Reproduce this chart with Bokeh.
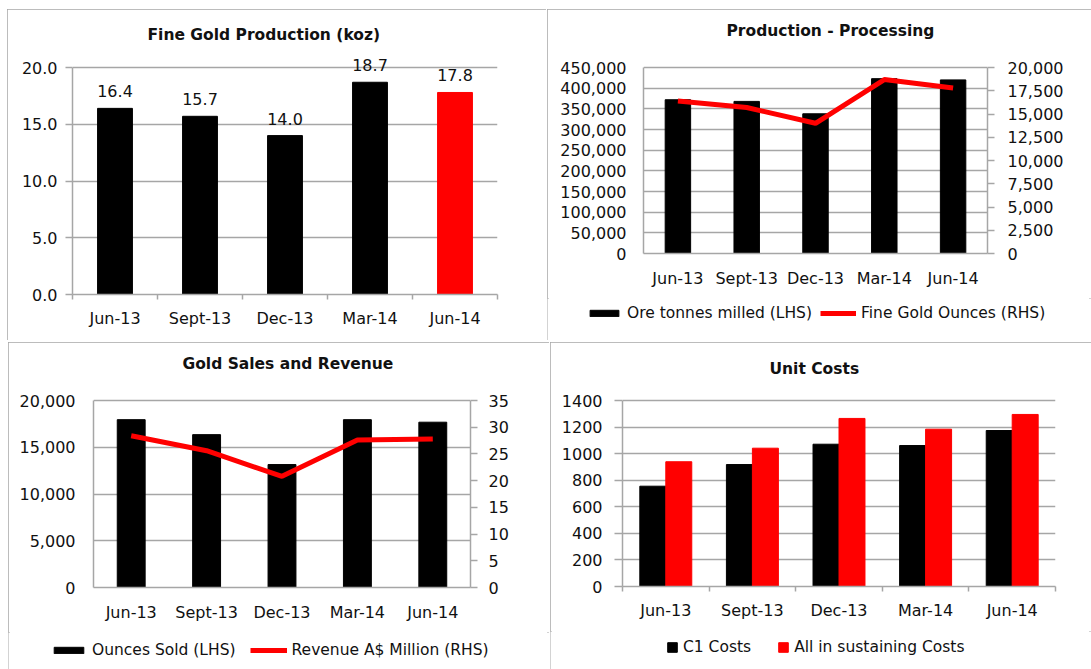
from bokeh.plotting import figure
from bokeh.models import (Range1d, LinearAxis, FixedTicker, NumeralTickFormatter,
                          Legend, LegendItem, LabelSet, ColumnDataSource)
from bokeh.layouts import column, row
from bokeh.transform import dodge
from bokeh.core.properties import value
from bokeh.embed import file_html
from bokeh.resources import INLINE

# ---------------- data ----------------
quarters = ["Jun-13", "Sept-13", "Dec-13", "Mar-14", "Jun-14"]
fine_gold_koz = [16.4, 15.7, 14.0, 18.7, 17.8]
ore_tonnes_milled = [372000, 368000, 338000, 423000, 420000]
fine_gold_ounces = [16400, 15700, 14000, 18700, 17800]
ounces_sold = [17950, 16350, 13150, 17950, 17680]
revenue_aud_m = [28.4, 25.6, 20.8, 27.6, 27.8]
c1_costs = [755, 918, 1071, 1061, 1174]
aisc_costs = [939, 1041, 1265, 1184, 1295]

xs = list(range(1, len(quarters) + 1))

FONT = "DejaVu Sans"
GRID = "#a6a6a6"
TXT = "#111111"
RED = "#ff0000"
BLACK = "#000000"
FS = "16px"
LFS = "15.5px"
TFS = "15.5px"
BOX = {"outline": "2px solid #a6a6a6", "outline-offset": "-2px"}


def headroom(ymax, frame_h, extra_px):
    # extend the range above the top tick so the title / labels get room
    return ymax * (frame_h + extra_px) / frame_h


def base(size, borders, yrange, ybounds, yticks, yfmt, title, t_offset,
         boundary_ticks, left_tick_out, left_standoff, x_standoff):
    left, right, top, bottom = borders
    p = figure(width=size[0], height=size[1], x_range=Range1d(0.5, len(quarters) + 0.5),
               y_range=Range1d(*yrange), output_backend="svg", toolbar_location=None,
               min_border_left=left, min_border_right=right, min_border_top=top,
               min_border_bottom=bottom, title=title)
    p.frame_align = False
    p.background_fill_color = "white"
    p.border_fill_color = "white"
    p.title.text_font = FONT
    p.title.text_font_size = TFS
    p.title.text_font_style = "bold"
    p.title.text_color = TXT
    p.title.align = "left"
    p.title.offset = t_offset
    p.title.standoff = 2
    p.xgrid.visible = False
    p.ygrid.grid_line_color = GRID
    p.ygrid.grid_line_width = 1.5
    p.outline_line_color = None

    xa = p.xaxis[0]
    xa.ticker = FixedTicker(ticks=xs, minor_ticks=[x - 0.5 for x in xs] + [xs[-1] + 0.5])
    xa.major_label_overrides = {x: q for x, q in zip(xs, quarters)}
    xa.major_tick_line_color = None
    xa.major_tick_out = 0
    xa.major_tick_in = 0
    xa.minor_tick_in = 0
    xa.minor_tick_out = 5 if boundary_ticks else 0
    xa.minor_tick_line_color = GRID if boundary_ticks else None
    xa.minor_tick_line_width = 1.5
    xa.axis_line_color = GRID
    xa.axis_line_width = 1.5
    xa.major_label_standoff = x_standoff
    xa.major_label_text_font = FONT
    xa.major_label_text_font_size = FS
    xa.major_label_text_color = TXT

    ya = p.yaxis[0]
    ya.ticker = FixedTicker(ticks=yticks)
    ya.formatter = NumeralTickFormatter(format=yfmt)
    ya.bounds = ybounds
    ya.minor_tick_line_color = None
    ya.major_tick_in = 0
    ya.major_tick_out = left_tick_out
    ya.major_tick_line_color = GRID if left_tick_out else None
    ya.major_tick_line_width = 1.5
    ya.axis_line_color = GRID
    ya.axis_line_width = 1.5
    ya.major_label_standoff = left_standoff
    ya.major_label_text_font = FONT
    ya.major_label_text_font_size = FS
    ya.major_label_text_color = TXT
    p.ygrid.ticker = ya.ticker
    return p


def right_axis(p, name, yend, bounds, ticks, fmt, standoff):
    p.extra_y_ranges = {name: Range1d(0, yend)}
    ax = LinearAxis(y_range_name=name, ticker=FixedTicker(ticks=ticks),
                    formatter=NumeralTickFormatter(format=fmt), bounds=bounds)
    ax.minor_tick_line_color = None
    ax.major_tick_in = 0
    ax.major_tick_out = 7
    ax.major_tick_line_color = GRID
    ax.major_tick_line_width = 1.5
    ax.axis_line_color = GRID
    ax.axis_line_width = 1.5
    ax.major_label_standoff = standoff
    ax.major_label_text_font = FONT
    ax.major_label_text_font_size = FS
    ax.major_label_text_color = TXT
    p.add_layout(ax, "right")


def legend_strip(width, height, entries, loc, glyph_w, glyph_h, spacing):
    """A strip under a chart holding its legend; keys come from hidden copies of the series."""
    lf = figure(width=width, height=height, x_range=Range1d(0, 1), y_range=Range1d(0, 1),
                x_axis_location=None, y_axis_location=None, toolbar_location=None,
                output_backend="svg", min_border=0)
    lf.frame_align = False
    lf.grid.visible = False
    lf.outline_line_color = None
    lf.background_fill_color = "white"
    lf.border_fill_color = "white"
    items = []
    for label, kind, color, series in entries:
        if kind == "bar":
            r = lf.vbar(x=xs, top=series, width=0.3, color=color)
        else:
            r = lf.line(x=xs, y=series, line_color=color, line_width=5)
        r.visible = False
        items.append(LegendItem(label=label, renderers=[r]))
    lg = Legend(items=items, location=loc, orientation="horizontal",
                glyph_width=glyph_w, glyph_height=glyph_h, label_standoff=5,
                spacing=spacing, padding=0, margin=0,
                border_line_color=None, background_fill_alpha=0,
                inactive_fill_alpha=0,
                label_text_font=FONT, label_text_font_size=LFS, label_text_color=TXT,
                label_height=18)
    lf.add_layout(lg)
    return lf


# ---------------- panel 1: Fine Gold Production ----------------
p1 = base((539, 331), (65, 49, 35, 46), (0, headroom(20, 227, 23)), (0, 20),
          [0, 5, 10, 15, 20], "0.0", "Fine Gold Production (koz)", 75, True, 7, 8, 9)
p1.margin = (9, 0, 0, 7)
p1.styles = BOX
bar_colors = [BLACK] * (len(quarters) - 1) + [RED]
src1 = ColumnDataSource(dict(x=xs, y=fine_gold_koz, c=bar_colors,
                             lab=[f"{v:.1f}" for v in fine_gold_koz]))
p1.vbar(x="x", top="y", width=0.41, color="c", source=src1)
p1.add_layout(LabelSet(x="x", y="y", text="lab", source=src1, text_align="center",
                       text_baseline="bottom", y_offset=11, text_font=value(FONT),
                       text_font_size=FS, text_color=TXT))

# ---------------- panel 2: Production - Processing ----------------
p2 = base((544, 289), (96, 104, 31, 45), (0, headroom(450000, 186, 27)), (0, 450000),
          list(range(0, 450001, 50000)), "0,0", "Production - Processing", 83,
          False, 0, 17, 15)
right_axis(p2, "oz", headroom(20000, 186, 27), (0, 20000), list(range(0, 20001, 2500)), "0,0", 13)
p2.vbar(x=xs, top=ore_tonnes_milled, width=0.37, color=BLACK)
p2.line(x=xs, y=fine_gold_ounces, y_range_name="oz", line_color=RED, line_width=5)
lg2 = legend_strip(544, 42, [("Ore tonnes milled (LHS)", "bar", BLACK, ore_tonnes_milled),
                             ("Fine Gold Ounces (RHS)", "line", RED, fine_gold_ounces)],
                   (39, 18), 36, 8, 8)
w2 = column(p2, lg2, margin=(9, 0, 0, 1), styles=BOX)

# ---------------- panel 3: Gold Sales and Revenue ----------------
p3 = base((541, 290), (85, 79, 31, 45), (0, headroom(20000, 187, 27)), (0, 20000),
          list(range(0, 20001, 5000)), "0,0", "Gold Sales and Revenue", 89,
          False, 0, 18, 15)
right_axis(p3, "rev", headroom(35, 187, 27), (0, 35), list(range(0, 36, 5)), "0", 11)
p3.vbar(x=xs, top=ounces_sold, width=0.37, color=BLACK)
p3.line(x=xs, y=revenue_aud_m, y_range_name="rev", line_color=RED, line_width=5)
lg3 = legend_strip(541, 37, [("Ounces Sold (LHS)", "bar", BLACK, ounces_sold),
                             ("Revenue A$ Million (RHS)", "line", RED, revenue_aud_m)],
                   (42, 10), 37, 8, 14)
w3 = column(p3, lg3, margin=(2, 0, 0, 8), styles=BOX)

# ---------------- panel 4: Unit Costs ----------------
p4 = base((541, 289), (72, 36, 36, 45), (0, headroom(1400, 186, 22)), (0, 1400),
          list(range(0, 1401, 200)), "0", "Unit Costs", 147, True, 8, 12, 9)
src4 = ColumnDataSource(dict(x=xs, c1=c1_costs, aisc=aisc_costs))
p4.vbar(x=dodge("x", -0.15, range=p4.x_range), top="c1", width=0.3, color=BLACK, source=src4)
p4.vbar(x=dodge("x", 0.15, range=p4.x_range), top="aisc", width=0.3, color=RED, source=src4)
lg4 = legend_strip(541, 38, [("C1 Costs", "bar", BLACK, c1_costs),
                             ("All in sustaining Costs", "bar", RED, aisc_costs)],
                   (116, 13), 12, 12, 26)
w4 = column(p4, lg4, margin=(2, 0, 0, 1), styles=BOX)

layout = column(row(p1, w2), row(w3, w4))
open("out.html", "w").write(file_html(layout, INLINE))
